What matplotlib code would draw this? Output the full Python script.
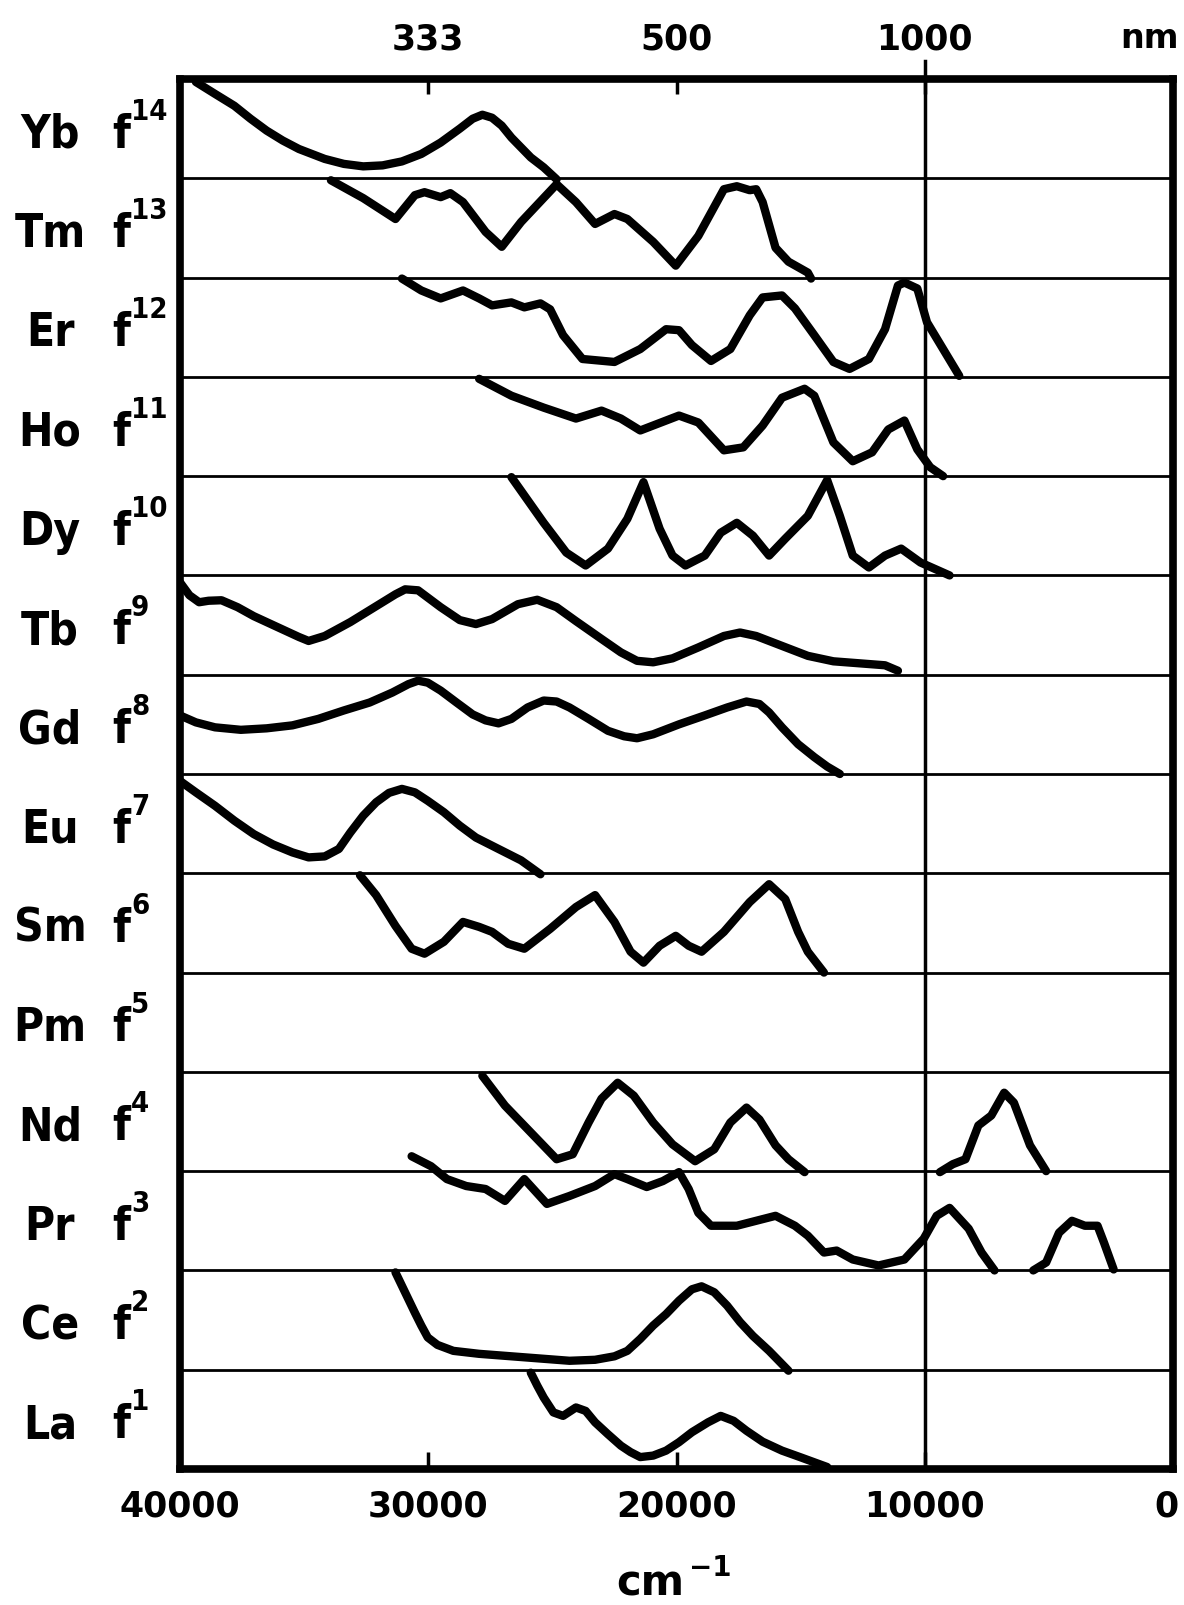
import matplotlib
matplotlib.use('Agg')
import matplotlib.pyplot as plt
import matplotlib.transforms as mtransforms
from matplotlib import font_manager
import numpy as np

# rows from top to bottom
elements = ['Yb', 'Tm', 'Er', 'Ho', 'Dy', 'Tb', 'Gd', 'Eu', 'Sm', 'Pm', 'Nd', 'Pr', 'Ce', 'La']
f_counts = [14, 13, 12, 11, 10, 9, 8, 7, 6, 5, 4, 3, 2, 1]

wn_ticks = [40000, 30000, 20000, 10000, 0]
nm_ticks = [333, 500, 1000]

# spectra: wavenumber (cm-1) and height inside the element's row (0 = row floor, 1 = ceiling)
yb_wn = [39360, 38590, 37810, 37160, 36510, 35860, 35210, 34170, 33400, 32620, 31840, 31060, 30280, 29500,
         28730, 28210, 27820, 27430, 27040, 26650, 26260, 25870, 25350, 24830]
yb_lv = [0.97, 0.85, 0.73, 0.60, 0.48, 0.38, 0.295, 0.195, 0.145, 0.12, 0.13, 0.17, 0.245, 0.36,
         0.50, 0.60, 0.64, 0.61, 0.53, 0.41, 0.31, 0.21, 0.11, -0.01]

tm_wn = [33920, 32620, 31320, 30540, 30150, 29500, 29110, 28600, 27690, 27040, 26260, 24830, 24050, 23280,
         22500, 21980, 20940, 20030, 19120, 18090, 17570, 17050, 16790, 16530, 16010, 15490, 14710, 14580]
tm_lv = [0.98, 0.80, 0.59, 0.83, 0.86, 0.81, 0.85, 0.76, 0.46, 0.31, 0.56, 0.94, 0.76, 0.54,
         0.64, 0.59, 0.36, 0.12, 0.42, 0.89, 0.92, 0.88, 0.89, 0.76, 0.30, 0.16, 0.05, -0.01]

er_wn = [31060, 30280, 29500, 28600, 27950, 27430, 26650, 26130, 25480, 25090, 24570, 23790, 22500, 21460,
         20420, 19900, 19380, 18610, 17830, 17050, 16530, 15750, 15230, 14450, 13680, 13030, 12250, 11600,
         11080, 10820, 10300, 9910, 9260, 8610]
er_lv = [0.99, 0.87, 0.79, 0.87, 0.79, 0.72, 0.75, 0.70, 0.74, 0.68, 0.42, 0.18, 0.15, 0.28,
         0.48, 0.47, 0.32, 0.16, 0.28, 0.62, 0.80, 0.82, 0.69, 0.42, 0.15, 0.08, 0.18, 0.48,
         0.92, 0.95, 0.89, 0.55, 0.28, 0.01]

ho_wn = [27950, 26650, 25350, 24050, 23020, 22240, 21460, 19900, 19120, 18090, 17310, 16530, 15750, 14840,
         14450, 13680, 12900, 12120, 11470, 10820, 10300, 9780, 9260]
ho_lv = [0.98, 0.81, 0.69, 0.58, 0.66, 0.58, 0.46, 0.61, 0.54, 0.26, 0.29, 0.51, 0.79, 0.88,
         0.81, 0.34, 0.15, 0.24, 0.47, 0.56, 0.27, 0.09, 0.0]

dy_wn = [26650, 25350, 24440, 23660, 22760, 21980, 21330, 20680, 20160, 19640, 18860, 18220, 17570, 16920,
         16270, 15620, 14710, 13930, 13420, 12900, 12250, 11600, 10950, 10170, 9000]
dy_lv = [0.99, 0.53, 0.23, 0.10, 0.27, 0.57, 0.94, 0.47, 0.20, 0.10, 0.20, 0.43, 0.53, 0.40,
         0.20, 0.37, 0.60, 0.96, 0.60, 0.20, 0.08, 0.20, 0.27, 0.13, 0.0]

tb_wn = [40000, 39620, 39230, 38850, 38330, 37680, 37030, 35990, 35210, 34820, 34170, 33140, 32100, 31320,
         30930, 30410, 29500, 28730, 28080, 27430, 26390, 25610, 24830, 24050, 23020, 22240, 21590, 20940,
         20160, 19120, 18090, 17440, 16790, 15750, 14710, 13680, 12640, 11600, 11080]
tb_lv = [0.93, 0.80, 0.73, 0.745, 0.75, 0.68, 0.59, 0.47, 0.38, 0.34, 0.39, 0.53, 0.69, 0.81,
         0.86, 0.85, 0.68, 0.55, 0.51, 0.56, 0.71, 0.755, 0.68, 0.54, 0.36, 0.225, 0.14, 0.125,
         0.165, 0.275, 0.39, 0.425, 0.39, 0.29, 0.19, 0.135, 0.115, 0.095, 0.04]

gd_wn = [40000, 39360, 38590, 37550, 36510, 35470, 34430, 33400, 32360, 31450, 30800, 30410, 30020, 29500,
         28860, 28210, 27690, 27170, 26650, 26000, 25350, 24830, 24310, 23540, 22760, 22110, 21590, 20940,
         19900, 18860, 17960, 17180, 16660, 16270, 15750, 15100, 14450, 13930, 13420]
gd_lv = [0.59, 0.52, 0.47, 0.445, 0.46, 0.49, 0.555, 0.64, 0.72, 0.82, 0.905, 0.94, 0.92, 0.84,
         0.72, 0.60, 0.54, 0.51, 0.555, 0.67, 0.74, 0.73, 0.67, 0.555, 0.435, 0.38, 0.36, 0.40,
         0.50, 0.59, 0.67, 0.73, 0.705, 0.62, 0.47, 0.30, 0.17, 0.075, 0.0]

eu_wn = [40000, 39360, 38590, 37810, 37030, 36250, 35470, 34820, 34170, 33600, 33140, 32620, 32100, 31580,
         31060, 30540, 30020, 29370, 28730, 28080, 27170, 26260, 25480]
eu_lv = [0.93, 0.815, 0.68, 0.53, 0.395, 0.29, 0.21, 0.16, 0.17, 0.245, 0.41, 0.58, 0.715, 0.81,
         0.85, 0.815, 0.73, 0.615, 0.48, 0.36, 0.245, 0.13, -0.01]

sm_wn = [32750, 32100, 31320, 30670, 30150, 29370, 28600, 27950, 27430, 26780, 26130, 25090, 24050, 23280,
         22500, 21850, 21330, 20680, 20030, 19510, 18990, 18090, 17050, 16270, 15620, 15100, 14710, 14060]
sm_lv = [0.98, 0.78, 0.47, 0.24, 0.19, 0.31, 0.51, 0.46, 0.41, 0.29, 0.24, 0.44, 0.66, 0.78,
         0.51, 0.21, 0.10, 0.27, 0.37, 0.27, 0.21, 0.41, 0.71, 0.89, 0.74, 0.41, 0.21, 0.0]

nd_wn_vis = [27820, 26910, 25870, 24830, 24180, 23540, 23020, 22370, 21720, 20940, 20160, 19250, 18480,
             17830, 17180, 16660, 16010, 15490, 14840]
nd_lv_vis = [0.96, 0.66, 0.39, 0.12, 0.17, 0.49, 0.73, 0.89, 0.76, 0.49, 0.27, 0.10, 0.22,
             0.49, 0.64, 0.52, 0.26, 0.12, -0.01]
nd_wn_ir = [9390, 8870, 8360, 7840, 7320, 6800, 6410, 5760, 5110]
nd_lv_ir = [-0.01, 0.07, 0.12, 0.46, 0.56, 0.79, 0.69, 0.26, 0.0]

pr_wn_vis = [30670, 29890, 29250, 28470, 27690, 26910, 26130, 25220, 24310, 23280, 22500, 21980, 21200,
             20550, 19900, 19510, 19120, 18610, 17570, 16010, 15230, 14710, 14060, 13550, 12900, 11860,
             10820, 10040, 9520, 9000, 8230, 7710, 7190]
pr_lv_vis = [1.15, 1.05, 0.92, 0.85, 0.82, 0.70, 0.92, 0.67, 0.75, 0.85, 0.97, 0.92, 0.84,
             0.90, 0.99, 0.82, 0.58, 0.45, 0.45, 0.55, 0.45, 0.35, 0.18, 0.20, 0.11, 0.05,
             0.11, 0.32, 0.55, 0.63, 0.42, 0.18, 0.0]
pr_wn_ir = [5630, 5110, 4590, 4070, 3550, 3040, 2780, 2390]
pr_lv_ir = [0.0, 0.08, 0.38, 0.50, 0.45, 0.45, 0.28, 0.01]

ce_wn = [31320, 31060, 30800, 30540, 30280, 30020, 29630, 28990, 27950, 26650, 25350, 24310, 23280, 22500,
         21980, 21460, 20940, 20420, 19900, 19380, 18990, 18480, 17960, 17440, 16920, 16270, 15490]
ce_lv = [0.98, 0.845, 0.71, 0.575, 0.445, 0.325, 0.25, 0.19, 0.16, 0.135, 0.11, 0.09, 0.10, 0.135,
         0.19, 0.31, 0.445, 0.56, 0.695, 0.81, 0.84, 0.78, 0.645, 0.48, 0.34, 0.19, -0.01]

la_wn = [25870, 25610, 25350, 24960, 24570, 24050, 23660, 23280, 22760, 22240, 21850, 21460, 20940, 20420,
         19900, 19380, 18730, 18220, 17700, 17180, 16530, 15750, 14970, 13930]
la_lv = [0.97, 0.84, 0.72, 0.57, 0.535, 0.62, 0.585, 0.47, 0.35, 0.235, 0.17, 0.12, 0.135, 0.185,
         0.27, 0.37, 0.47, 0.535, 0.485, 0.385, 0.275, 0.185, 0.115, 0.02]

spectra = {
    'Yb': [(yb_wn, yb_lv)],
    'Tm': [(tm_wn, tm_lv)],
    'Er': [(er_wn, er_lv)],
    'Ho': [(ho_wn, ho_lv)],
    'Dy': [(dy_wn, dy_lv)],
    'Tb': [(tb_wn, tb_lv)],
    'Gd': [(gd_wn, gd_lv)],
    'Eu': [(eu_wn, eu_lv)],
    'Sm': [(sm_wn, sm_lv)],
    'Pm': [],
    'Nd': [(nd_wn_vis, nd_lv_vis), (nd_wn_ir, nd_lv_ir)],
    'Pr': [(pr_wn_vis, pr_lv_vis), (pr_wn_ir, pr_lv_ir)],
    'Ce': [(ce_wn, ce_lv)],
    'La': [(la_wn, la_lv)],
}

n_rows = len(elements)

# narrow bold lettering for the row labels, whichever is installed
font_files = [f.fname for f in font_manager.fontManager.ttflist]
narrow = [p for p in font_files if 'LiberationSansNarrow-Bold.' in p]
condensed = [p for p in font_files if 'DejaVuSansCondensed-Bold.' in p]
if narrow:
    label_font = font_manager.FontProperties(fname=narrow[0], size=37)
    sup_font = font_manager.FontProperties(fname=narrow[0], size=23)
elif condensed:
    label_font = font_manager.FontProperties(fname=condensed[0], size=33)
    sup_font = font_manager.FontProperties(fname=condensed[0], size=21)
else:
    label_font = font_manager.FontProperties(family='DejaVu Sans', weight='bold', size=31)
    sup_font = font_manager.FontProperties(family='DejaVu Sans', weight='bold', size=20)

plt.rcParams['font.family'] = 'DejaVu Sans'
plt.rcParams['font.weight'] = 'bold'

W, H = 1184, 1606
fig = plt.figure(figsize=(W / 100, H / 100), dpi=100)
ax = fig.add_axes([180 / W, 1 - 1470 / H, 993 / W, 1390 / H])
ax.set_xlim(40000, 0)
ax.set_ylim(0, n_rows)

for spine in ax.spines.values():
    spine.set_linewidth(5.5)
    spine.set_capstyle('projecting')

# row separators and the 10000 cm-1 (1000 nm) marker line
for k in range(1, n_rows):
    ax.axhline(k, color='black', lw=2, zorder=1)
ax.axvline(10000, ymin=0, ymax=1.013, color='black', lw=2.5, clip_on=False, zorder=1)

for k, el in enumerate(elements):
    base = n_rows - 1 - k
    for wn, lv in spectra[el]:
        ax.plot(wn, base + np.asarray(lv), color='black', lw=6,
                solid_joinstyle='round', solid_capstyle='round', zorder=3)

# bottom axis: wavenumber; the "0" is set by hand so it stays inside the figure
ax.set_xticks(wn_ticks, [str(v) if v else '' for v in wn_ticks])
ax.set_yticks([])
ax.tick_params(axis='x', direction='in', length=12, width=2.5, pad=14, labelsize=25)
zero_tr = mtransforms.offset_copy(ax.transAxes, fig=fig, x=-5, y=-14, units='points')
ax.text(1.0, 0.0, '0', transform=zero_tr, ha='center', va='top', fontsize=25, fontweight='bold')

# top axis: wavelength in nm
ax2 = ax.twiny()
ax2.set_xlim(ax.get_xlim())
ax2.set_xticks([1e7 / v for v in nm_ticks], [str(v) for v in nm_ticks])
ax2.tick_params(axis='x', direction='in', length=11, width=2.5, pad=17, labelsize=25)
for spine in ax2.spines.values():
    spine.set_visible(False)

fig.text(1179 / W, 1 - 48 / H, 'nm', ha='right', va='baseline', fontsize=24, fontweight='bold')

# axis unit below the wavenumber scale
fig.text(650 / W, 1 - 1596 / H, 'cm', ha='center', va='baseline', fontsize=30, fontweight='bold')
fig.text(689 / W, 1 - 1576 / H, '\u22121', ha='left', va='baseline', fontsize=20, fontweight='bold')

# row labels: element symbol and 4f occupation
row_tr = mtransforms.blended_transform_factory(fig.transFigure, ax.transData)
base_tr = mtransforms.offset_copy(row_tr, fig=fig, y=-18, units='dots')
sup_tr = mtransforms.offset_copy(row_tr, fig=fig, y=10, units='dots')
for k, (el, n) in enumerate(zip(elements, f_counts)):
    yc = n_rows - 0.5 - k
    fig.text(50 / W, yc, el, transform=base_tr, ha='center', va='baseline', fontproperties=label_font)
    fig.text(112 / W, yc, 'f', transform=base_tr, ha='left', va='baseline', fontproperties=label_font)
    fig.text(131 / W, yc, str(n), transform=sup_tr, ha='left', va='baseline', fontproperties=sup_font)

fig.savefig('out.png', dpi=100, facecolor='white')
